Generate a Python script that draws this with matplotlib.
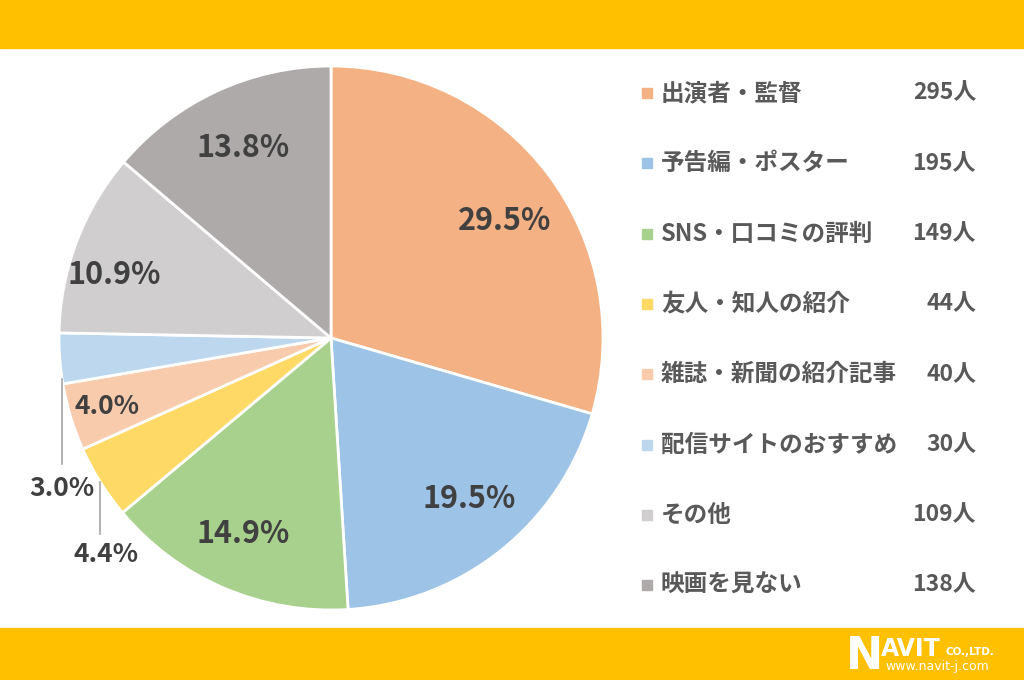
import numpy as np
import matplotlib.pyplot as plt
from matplotlib.patches import Rectangle

plt.rcParams['font.family'] = ['Noto Sans CJK JP', 'DejaVu Sans']

# data
categories = ['出演者・監督', '予告編・ポスター', 'SNS・口コミの評判', '友人・知人の紹介',
              '雑誌・新聞の紹介記事', '配信サイトのおすすめ', 'その他', '映画を見ない']
counts = [295, 195, 149, 44, 40, 30, 109, 138]
colors = ['#F4B183', '#9DC3E6', '#A9D18E', '#FFD966',
          '#F8CBAD', '#BDD7EE', '#D0CECE', '#AEAAAA']

total = sum(counts)
pcts = [c / total * 100 for c in counts]

W, H = 1024, 680
fig = plt.figure(figsize=(W / 100, H / 100), dpi=100)
fig.patch.set_facecolor('white')

# orange bands top / bottom
band = '#FFC000'
fig.patches.append(Rectangle((0, 1 - 48 / H), 1, 48 / H, transform=fig.transFigure,
                             color=band, zorder=-1))
fig.patches.append(Rectangle((0, 0), 1, 52 / H, transform=fig.transFigure,
                             color=band, zorder=-1))

# pie
cx, cy, r, half = 331, 342, 272, 320
ax = fig.add_axes([(cx - half) / W, (cy - half) / H, 2 * half / W, 2 * half / H])
wedges, _ = ax.pie(counts, colors=colors, startangle=90, counterclock=False,
                   wedgeprops=dict(edgecolor='white', linewidth=2))
ax.set_xlim(-half / r, half / r)
ax.set_ylim(-half / r, half / r)
ax.axis('off')

txt_col = '#404040'
# label placement: index -> (distance, angle shift)
inside = {0: (0.77, -3), 1: (0.78, 2), 2: (0.79, -1), 4: (0.86, 0),
          6: (0.83, 4.4), 7: (0.77, 0)}
for i, (dist, dth) in inside.items():
    w = wedges[i]
    a = np.deg2rad((w.theta1 + w.theta2) / 2 + dth)
    fs = 19 if pcts[i] < 5 else 22
    ax.text(dist * np.cos(a), dist * np.sin(a), f'{pcts[i]:.1f}%', ha='center', va='center',
            fontsize=fs, fontweight='bold', color=txt_col)

lead = '#A6A6A6'
# 3.0% : leader from lower edge of wedge
w = wedges[5]
a = np.deg2rad(w.theta2 - 1)
x0, y0 = np.cos(a), np.sin(a)
ax.plot([x0, x0], [y0, y0 - 0.31], color=lead, lw=1.2)
ax.text(x0, y0 - 0.40, f'{pcts[5]:.1f}%', ha='center', va='center',
        fontsize=19, fontweight='bold', color=txt_col)
# 4.4% : leader from middle of wedge
w = wedges[3]
a = np.deg2rad((w.theta1 + w.theta2) / 2)
x0, y0 = np.cos(a), np.sin(a)
ax.plot([x0, x0], [y0, y0 - 0.19], color=lead, lw=1.2)
ax.text(x0 + 0.02, y0 - 0.265, f'{pcts[3]:.1f}%', ha='center', va='center',
        fontsize=19, fontweight='bold', color=txt_col)

# legend (pixel overlay)
lax = fig.add_axes([0, 0, 1, 1])
lax.set_zorder(5)
lax.set_xlim(0, W)
lax.set_ylim(H, 0)
lax.axis('off')
leg_col = '#595959'
for i, (cat, n) in enumerate(zip(categories, counts)):
    y = 93 + 70.3 * i
    lax.add_patch(Rectangle((642, y - 5), 10, 10, color=colors[i]))
    lax.text(661, y, cat, ha='left', va='center', fontsize=17, fontweight='bold', color=leg_col)
    lax.text(976, y, f'{n}人', ha='right', va='center', fontsize=16.5, fontweight='bold', color=leg_col)

# logo
lax.text(846, 669, 'N', ha='left', va='baseline', fontsize=32, fontweight='bold',
         color='white', family='DejaVu Sans')
lax.text(881, 656, 'AVIT', ha='left', va='baseline', fontsize=17, fontweight='bold',
         color='white', family='DejaVu Sans')
lax.text(946, 655, 'CO.,LTD.', ha='left', va='baseline', fontsize=7.5, fontweight='bold',
         color='white', family='DejaVu Sans')
lax.text(885, 670, 'www.navit-j.com', ha='left', va='baseline', fontsize=9,
         color='white', family='DejaVu Sans')

fig.savefig('out.png', dpi=100)
